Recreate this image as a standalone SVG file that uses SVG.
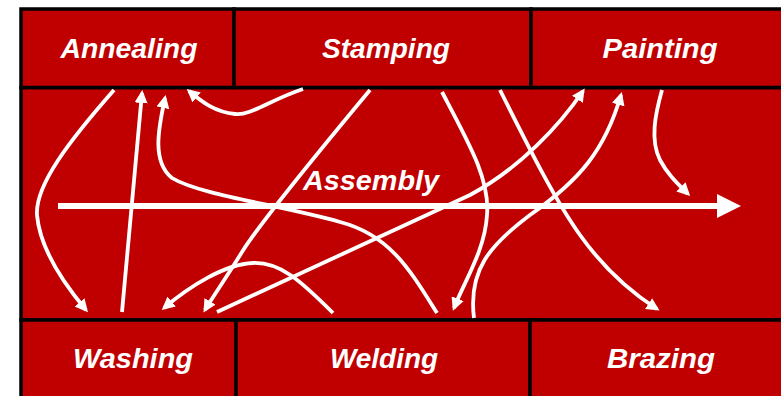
<svg xmlns="http://www.w3.org/2000/svg" width="781" height="396" viewBox="0 0 781 396">
<style>
.box{fill:#C00000;stroke:#000;stroke-width:3.5}
.lbl{font-family:"Liberation Sans",Arial,sans-serif;font-weight:bold;font-style:italic;font-size:28px;fill:#fff;text-anchor:middle}
.ca{fill:none;stroke:#fff;stroke-width:3.8;marker-end:url(#ah)}
</style>
<defs>
<marker id="ah" markerUnits="userSpaceOnUse" markerWidth="14" markerHeight="13" refX="10" refY="6.5" orient="auto">
<path d="M0,0 L13,6.5 L0,13 z" fill="#fff"/>
</marker>
<marker id="big" markerUnits="userSpaceOnUse" markerWidth="24" markerHeight="24" refX="2" refY="12" orient="auto">
<path d="M0,0 L24,12 L0,24 z" fill="#fff"/>
</marker>
</defs>
<rect width="781" height="396" fill="#fff"/>
<g id="assembly">
<rect class="box" x="21" y="87.5" width="800" height="232.5"/>
<text class="lbl" x="371" y="190" textLength="136" lengthAdjust="spacingAndGlyphs">Assembly</text>
</g>
<g id="annealing">
<rect class="box" x="21" y="9" width="213" height="78.5"/>
<text class="lbl" x="129" y="58" textLength="137" lengthAdjust="spacingAndGlyphs">Annealing</text>
</g>
<g id="stamping">
<rect class="box" x="234" y="9" width="297" height="78.5"/>
<text class="lbl" x="386" y="58" textLength="128" lengthAdjust="spacingAndGlyphs">Stamping</text>
</g>
<g id="painting">
<rect class="box" x="531" y="9" width="290" height="78.5"/>
<text class="lbl" x="660" y="58" textLength="115" lengthAdjust="spacingAndGlyphs">Painting</text>
</g>
<g id="washing">
<rect class="box" x="21" y="320" width="215" height="100"/>
<text class="lbl" x="133" y="368" textLength="120" lengthAdjust="spacingAndGlyphs">Washing</text>
</g>
<g id="welding">
<rect class="box" x="236" y="320" width="294" height="100"/>
<text class="lbl" x="384" y="368" textLength="108" lengthAdjust="spacingAndGlyphs">Welding</text>
</g>
<g id="brazing">
<rect class="box" x="530" y="320" width="291" height="100"/>
<text class="lbl" x="661" y="368" textLength="108" lengthAdjust="spacingAndGlyphs">Brazing</text>
</g>
<g id="connectors">
<path class="ca" d="M114,90 C70,140 35,185 37,215 C40,250 65,285 86,310"/>
<path class="ca" d="M122,312 L142,93"/>
<path class="ca" d="M437,313 C410,270 390,235 340,222 C280,205 200,195 172,178 C152,162 158,130 165,98"/>
<path class="ca" d="M303,89 C270,100 250,116 235,114 C215,112 202,102 189,91"/>
<path class="ca" d="M370,90 C320,150 262,220 242,252 C226,278 212,298 205,310"/>
<path class="ca" d="M333,313 C300,280 280,262 253,263 C225,264 190,286 164,308"/>
<path class="ca" d="M217,312 L470,195 C520,168 560,125 583,91"/>
<path class="ca" d="M442,92 C470,145 490,180 487,215 C485,250 465,280 454,308"/>
<path class="ca" d="M474,318 C468,270 490,245 530,215 C580,180 605,150 621,95"/>
<path class="ca" d="M500,90 C530,150 555,200 580,235 C605,270 632,293 657,309"/>
<path class="ca" d="M662,90 C655,115 650,140 660,160 C668,175 678,184 688,194"/>
<path fill="none" stroke="#fff" stroke-width="6" d="M58,206 L719,206" marker-end="url(#big)"/>
</g>
</svg>
